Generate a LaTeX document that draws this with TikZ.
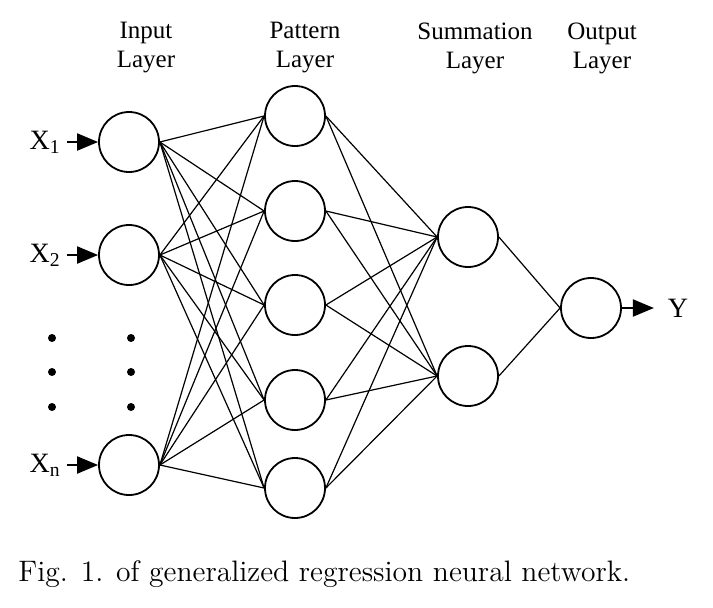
\documentclass[tikz,border=0pt]{standalone}
\usepackage{fontspec}
\newfontfamily\labelfont{Liberation Serif}
\usetikzlibrary{arrows.meta}
\begin{document}
\begin{tikzpicture}[x=0.5pt,y=-0.5pt,
	neuron/.style={draw,circle,line width=0.9pt,minimum size=30pt,inner sep=0pt},
	link/.style={line width=0.6pt},
	feed/.style={-{Triangle[length=10.5pt,width=8.5pt]},line width=1pt},
	layername/.style={font=\labelfont\fontsize{12.5}{14.5}\selectfont,align=center},
	varname/.style={font=\labelfont\fontsize{14}{16}\selectfont,inner sep=1pt}]
	\useasboundingbox (0,0) rectangle (713,607);

	\node[layername] (hin) at (146,48) {Input\\Layer};
	\node[layername] (hpat) at (305,48) {Pattern\\Layer};
	\node[layername] (hsum) at (475,48) {Summation\\Layer};
	\node[layername] (hout) at (602,48) {Output\\Layer};

	\foreach \y [count=\i] in {142,255,465}
	    \node[neuron] (in\i) at (129,\y) {};
	\foreach \y [count=\i] in {116,211,305,400,488}
	    \node[neuron] (pat\i) at (295,\y) {};
	\foreach \y [count=\i] in {237,376}
	    \node[neuron] (sum\i) at (468,\y) {};
	\node[neuron] (out) at (591,308) {};

	\foreach \i in {1,2,3}
	    \foreach \j in {1,...,5}
	      {
		  \draw[link] (in\i.east) -- (pat\j.west);
	      }
	\foreach \j in {1,...,5}
	    \foreach \k in {1,2}
	      {
		  \draw[link] (pat\j.east) -- (sum\k.west);
	      }
	\foreach \k in {1,2}
	    \draw[link] (sum\k.east) -- (out.west);

	\foreach \i/\s in {1/1,2/2,3/n}
	  {
	    \coordinate (src\i) at ([xshift=-15.5pt]in\i.west);
	    \draw[feed] (src\i) -- (in\i.west);
	    \node[varname,anchor=east] (x\i) at ([xshift=-2pt]src\i) {X\textsubscript{\s}};
	  }
	\coordinate (dst) at ([xshift=16pt]out.east);
	\draw[feed] (out.east) -- (dst);
	\node[varname] (ylab) at (678,308) {Y};

	\foreach \x in {52,131}
	    \foreach \y in {338,372,407}
	      {
		  \fill (\x,\y) circle (4);
	      }

	\node[anchor=west,inner sep=0pt,font=\fontsize{14.8}{17}\selectfont] (caption) at (18,574)
	    {Fig. 1. of generalized regression neural network.};
\end{tikzpicture}
\end{document}
